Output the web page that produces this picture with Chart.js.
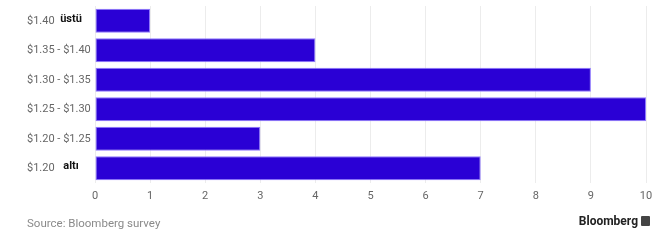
<!DOCTYPE html>
<html>
<head>
<meta charset="utf-8">
<script src="https://cdn.jsdelivr.net/npm/chart.js@4/dist/chart.umd.min.js"></script>
<style>
  body { margin: 0; background: #fff; }
  #wrap { position: relative; width: 660px; height: 244px; }
  #source { position: absolute; left: 27px; top: 216px; font: 11.5px Roboto, sans-serif; color: #8a8a8a; }
  #brand { position: absolute; right: 10px; top: 214px; font: bold 12px Roboto, sans-serif; color: #222; }
  #brand span { display: inline-block; width: 9px; height: 10px; background: #444; margin-left: 3px; vertical-align: -1px; border-radius: 1px; }
</style>
</head>
<body>
<div id="wrap">
  <canvas id="chart" width="660" height="244"></canvas>
  <div id="source">Source: Bloomberg survey</div>
  <div id="brand">Bloomberg<span></span></div>
</div>
<script>

const categories = ["$1.40", "$1.35 - $1.40", "$1.30 - $1.35", "$1.25 - $1.30", "$1.20 - $1.25", "$1.20"];
const suffixes = ["üstü", "", "", "", "", "altı"];
const responses = [1, 4, 9, 10, 3, 7];
const xTicks = [0, 1, 2, 3, 4, 5, 6, 7, 8, 9, 10];

/* bold suffix next to the first and last label */
const suffixPlugin = {
    id: "suffix",
    afterDraw(chart) {
        const ctx = chart.ctx;
        const yScale = chart.scales.y;
        ctx.save();
        ctx.font = "bold 11px Roboto, sans-serif";
        ctx.fillStyle = "#111";
        ctx.textAlign = "center";
        ctx.textBaseline = "middle";
        suffixes.forEach((s, i) => {
            if (s) ctx.fillText(s, 71, yScale.getPixelForValue(i) - 2);
        });
        ctx.restore();
    }
};

new Chart(document.getElementById("chart"), {
    type: "bar",
    data: {
        labels: categories,
        datasets: [{
            data: responses,
            backgroundColor: "#2a00d5",
            borderColor: "#8f78ff",
            borderWidth: 1,
            borderSkipped: false,
            categoryPercentage: 0.82,
            barPercentage: 1
        }]
    },
    options: {
        indexAxis: "y",
        responsive: false,
        animation: false,
        layout: {
            padding: { left: 27, top: 6, right: 14, bottom: 31 }
        },
        scales: {
            x: {
                min: 0,
                max: 10,
                afterBuildTicks(scale) {
                    scale.ticks = xTicks.map(v => ({ value: v }));
                },
                afterFit(scale) { scale.height = 30; },
                border: { display: false },
                grid: { color: "#ececec", drawTicks: false },
                ticks: {
                    color: "#666",
                    padding: 7,
                    font: { family: "Roboto, sans-serif", size: 11 }
                }
            },
            y: {
                afterFit(scale) {
                    scale.width = 68;
                    scale.paddingTop = 0;
                    scale.paddingBottom = 0;
                },
                border: { display: false },
                grid: { display: false },
                ticks: {
                    crossAlign: "far",
                    color: "#666",
                    font: { family: "Roboto, sans-serif", size: 11 }
                }
            }
        },
        plugins: {
            legend: { display: false },
            tooltip: { enabled: false }
        }
    },
    plugins: [suffixPlugin]
});

</script>
</body>
</html>
